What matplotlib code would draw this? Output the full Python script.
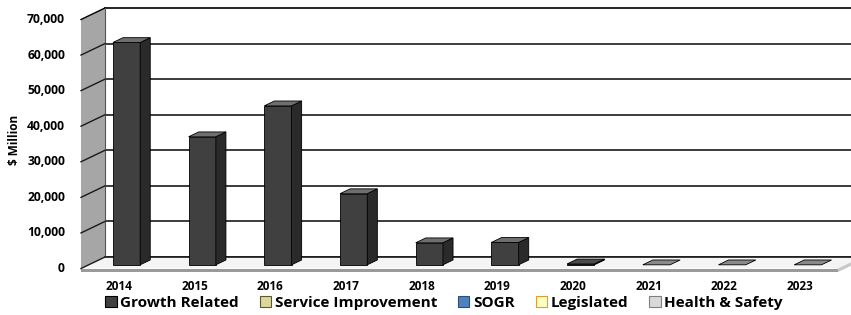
import matplotlib
matplotlib.use("Agg")
import matplotlib.pyplot as plt
from matplotlib.patches import Polygon, Patch

plt.rcParams['font.family'] = ['Open Sans', 'DejaVu Sans']

years = ['2014', '2015', '2016', '2017', '2018', '2019', '2020', '2021', '2022', '2023']
growth_related = [62500, 36000, 44700, 20000, 6200, 6300, 250, 0, 0, 0]
y_ticks = [0, 10000, 20000, 30000, 40000, 50000, 60000, 70000]
series_names = ['Growth Related', 'Service Improvement', 'SOGR', 'Legislated', 'Health & Safety']
series_face = ['#404040', '#dcd69f', '#4f81bd', '#ffffc4', '#d9d9d9']
series_edge = ['#000000', '#5a5a2a', '#2c4d75', '#e39a2e', '#7f7f7f']

W, H, DPI = 851, 315, 100
fig = plt.figure(figsize=(W / DPI, H / DPI), dpi=DPI)

# axes = back plane of the 3D box
n = len(years)
left_px, right_px = 105, 105 + 75.7 * n
bot_px, top_px = 257, 8   # from top of image
ax = fig.add_axes([left_px / W, (H - bot_px) / H, (right_px - left_px) / W, (bot_px - top_px) / H])
ymax = y_ticks[-1]
ax.set_xlim(-0.5, n - 0.5)
ax.set_ylim(0, ymax)
ax.axis('off')

px_x = (right_px - left_px) / n          # px per category
px_y = (bot_px - top_px) / ymax          # px per value unit
DX = -24 / px_x                           # front offset (data units)
DY = -11.5 / px_y


def P(x, v, t):
    """t=1 back plane, t=0 front plane."""
    return (x + (1 - t) * DX, v + (1 - t) * DY)


def poly(pts, fc, ec='black', lw=0.6, z=1):
    ax.add_patch(Polygon(pts, closed=True, facecolor=fc, edgecolor=ec, lw=lw, zorder=z, clip_on=False))


x0, x1 = -0.5, n - 0.5
# back wall
poly([P(x0, 0, 1), P(x1, 0, 1), P(x1, ymax, 1), P(x0, ymax, 1)], 'white', ec='none', z=0)
ax.plot([x0, x1], [ymax, ymax], color='black', lw=1.2, clip_on=False, zorder=1)
for v in y_ticks[:-1]:
    ax.plot([x0, x1], [v, v], color='#1a1a1a', lw=1.2, clip_on=False, zorder=1)

# side wall
poly([P(x0, 0, 1), P(x0, ymax, 1), P(x0, ymax, 0), P(x0, 0, 0)], '#a6a6a6', ec='none', z=2)
ax.plot(*zip(P(x0, ymax, 0), P(x0, ymax, 1)), color='black', lw=1.0, zorder=3, clip_on=False)
ax.plot(*zip(P(x0, ymax, 1), P(x0, 0, 1)), color='#555555', lw=0.8, zorder=3, clip_on=False)
for v in y_ticks[:-1]:
    ax.plot(*zip(P(x0, v, 0), P(x0, v, 1)), color='#1a1a1a', lw=1.0, zorder=3, clip_on=False)

# floor
slab = 3.5 / px_y
poly([P(x0, 0, 1), P(x1, 0, 1), P(x1, 0, 0), P(x0, 0, 0)], '#f4f4f4', ec='none', z=2)
ax.plot([x0, x1], [0, 0], color='#1a1a1a', lw=1.2, zorder=2.5, clip_on=False)
fa, fb = P(x0, 0, 0), P(x1, 0, 0)
poly([fa, fb, (fb[0], fb[1] - slab), (fa[0], fa[1] - slab)], '#9a9a9a', ec='none', z=2.6)
ra, rb = P(x1, 0, 0), P(x1, 0, 1)
poly([ra, rb, (rb[0], rb[1] - slab), (ra[0], ra[1] - slab)], '#c8c8c8', ec='none', z=2.6)

# bars
bw = 0.36
tf, tb = 0.32, 0.74
for i, v in enumerate(growth_related):
    xl, xr = i - bw / 2, i + bw / 2
    z = 5
    if v > 0:
        poly([P(xl, 0, tf), P(xr, 0, tf), P(xr, v, tf), P(xl, v, tf)], '#404040', z=z)
        poly([P(xr, 0, tf), P(xr, 0, tb), P(xr, v, tb), P(xr, v, tf)], '#2a2a2a', z=z)
        top_c = '#6f6f6f' if v > 1000 else '#4a4a4a'
    else:
        top_c = '#8a8a8a'
    poly([P(xl, v, tf), P(xr, v, tf), P(xr, v, tb), P(xl, v, tb)], top_c, z=z + 0.1)

# y tick labels (front plane)
for v in y_ticks:
    ax.annotate(f'{v:,}', xy=P(x0, v, 0), xytext=(-16, 0), textcoords='offset pixels',
                ha='right', va='center', fontsize=8.7, fontweight='bold', annotation_clip=False)

# x tick labels
for i, yr in enumerate(years):
    ax.annotate(yr, xy=P(i, 0, 0), xytext=(0, -18), textcoords='offset pixels',
                ha='center', va='center', fontsize=8.5, fontweight='bold', annotation_clip=False)

fig.text(14 / W, 1 - 140 / H, '$ Million', rotation=90, ha='center', va='center',
         fontsize=8.5, fontweight='bold')

handles = [Patch(facecolor=f, edgecolor=e, lw=0.8, label=s)
           for s, f, e in zip(series_names, series_face, series_edge)]
fig.legend(handles=handles, loc='center', bbox_to_anchor=(444 / W, 1 - 303 / H), ncol=5,
           frameon=False, prop={'weight': 'bold', 'size': 11},
           handlelength=0.75, handleheight=0.75, handletextpad=0.25, columnspacing=1.35,
           borderaxespad=0, borderpad=0)

fig.savefig('out.png', dpi=DPI)
